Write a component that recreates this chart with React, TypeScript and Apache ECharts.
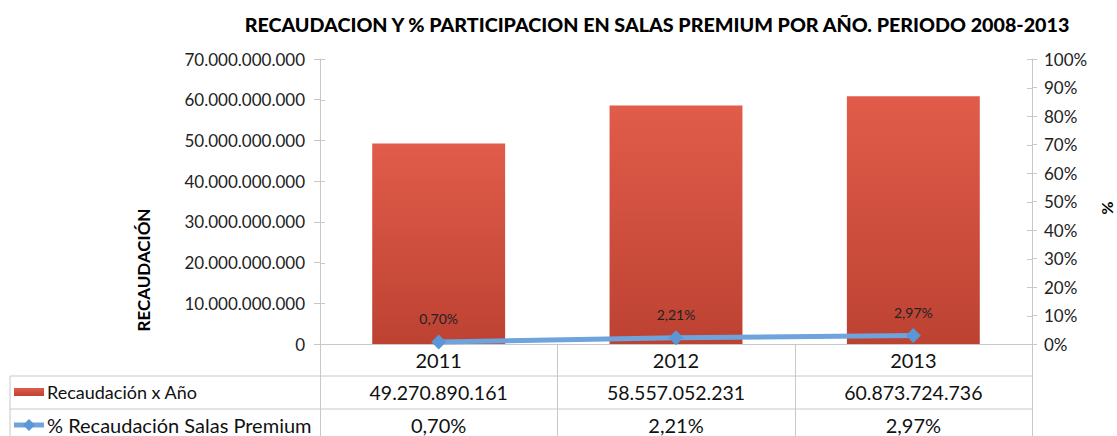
import React, { useEffect, useRef } from "react";
import * as echarts from "echarts";

const years = ["2011", "2012", "2013"];
const recaudacion = [49270890161, 58557052231, 60873724736];
const premiumPct = [0.7, 2.21, 2.97];
const barName = "Recaudación x Año";
const lineName = "% Recaudación Salas Premium";
const titleText = "RECAUDACION Y % PARTICIPACION EN SALAS PREMIUM POR AÑO. PERIODO 2008-2013";

const FONT = "Lato, 'Open Sans', sans-serif";
const fmtNum = (n: number) => Math.round(n).toString().replace(/\B(?=(\d{3})+(?!\d))/g, ".");
const fmtPct = (v: number) => v.toFixed(2).replace(".", ",") + "%";

const GL = 320, GR = 1032, GT = 59, GB = 344;
const BLUE = "#6EA3DC";
const barGrad = () =>
  new echarts.graphic.LinearGradient(0, 0, 0, 1, [
    { offset: 0, color: "#E15C4A" },
    { offset: 1, color: "#BD4232" },
  ]);

export default function App() {
  const ref = useRef<HTMLDivElement>(null);
  useEffect(() => {
    if (!ref.current) return;
    const chart = echarts.init(ref.current, null, { renderer: "svg" });
    const colW = (GR - GL) / years.length;
    const lineStyle = { stroke: "#C8C8C8", lineWidth: 1 };
    const graphics: any[] = [];
    // table grid lines
    graphics.push({ type: "line", shape: { x1: 10, y1: 376, x2: GR, y2: 376 }, style: lineStyle });
    graphics.push({ type: "line", shape: { x1: 10, y1: 409, x2: GR, y2: 409 }, style: lineStyle });
    graphics.push({ type: "line", shape: { x1: 10, y1: 376, x2: 10, y2: 440 }, style: lineStyle });
    for (let i = 0; i <= years.length; i++) {
      const x = Math.round(GL + colW * i) + 0.5;
      graphics.push({ type: "line", shape: { x1: x, y1: i === 0 ? GT : GB, x2: x, y2: 440 }, style: lineStyle });
    }
    // axis ticks crossing inward
    for (let k = 0; k <= 10; k++) {
      const y = Math.round(GB - ((GB - GT) * k) / 10) + 0.5;
      graphics.push({ type: "line", shape: { x1: GR - 5, y1: y, x2: GR, y2: y }, style: lineStyle });
    }
    for (let k = 0; k <= 7; k++) {
      const y = Math.round(GB - ((GB - GT) * k) / 7) + 0.5;
      graphics.push({ type: "line", shape: { x1: GL, y1: y, x2: GL + 5, y2: y }, style: lineStyle });
    }
    // legend keys
    graphics.push({ type: "rect", shape: { x: 14, y: 388, width: 30, height: 8 }, style: { fill: barGrad() } });
    graphics.push({ type: "line", shape: { x1: 14, y1: 425, x2: 44, y2: 425 }, style: { stroke: BLUE, lineWidth: 5 } });
    graphics.push({ type: "polygon", shape: { points: [[29, 419], [35, 425], [29, 431], [23, 425]] }, style: { fill: "#5B96D6" } });
    graphics.push({ type: "text", x: 47, y: 392, style: { text: barName, font: `18px ${FONT}`, fill: "#111", textVerticalAlign: "middle" } });
    graphics.push({ type: "text", x: 47, y: 425, style: { text: lineName, font: `20px ${FONT}`, fill: "#111", textVerticalAlign: "middle" } });
    years.forEach((_, i) => {
      const cx = GL + colW * (i + 0.5);
      graphics.push({ type: "text", x: cx, y: 392, style: { text: fmtNum(recaudacion[i]), font: `19.5px ${FONT}`, fill: "#111", textAlign: "center", textVerticalAlign: "middle" } });
      graphics.push({ type: "text", x: cx, y: 425, style: { text: fmtPct(premiumPct[i]), font: `20px ${FONT}`, fill: "#111", textAlign: "center", textVerticalAlign: "middle" } });
    });
    // axis names
    graphics.push({ type: "text", x: 143, y: 270, rotation: Math.PI / 2, style: { text: "RECAUDACIÓN", font: `bold 17px ${FONT}`, fill: "#000", textAlign: "center", textVerticalAlign: "middle" } });
    graphics.push({ type: "text", x: 1108, y: 208, rotation: -Math.PI / 2, style: { text: "%", font: `bold 16px ${FONT}`, fill: "#000", textAlign: "center", textVerticalAlign: "middle" } });

    chart.setOption({
      animation: false,
      backgroundColor: "#fff",
      title: {
        text: titleText,
        left: 652,
        textAlign: "center",
        top: 9,
        textStyle: { fontFamily: FONT, fontWeight: 900, fontSize: 19.7, color: "#000" },
      },
      grid: { left: GL, right: 1117 - GR, top: GT, bottom: 436 - GB, containLabel: false },
      xAxis: {
        type: "category",
        data: years,
        axisLine: { lineStyle: { color: "#C8C8C8" } },
        axisTick: { show: false },
        axisLabel: { fontFamily: FONT, fontSize: 20, color: "#111", margin: 6 },
      },
      yAxis: [
        {
          type: "value",
          min: 0,
          max: 70000000000,
          interval: 10000000000,
          splitLine: { show: false },
          axisLine: { show: true, lineStyle: { color: "#C8C8C8" } },
          axisTick: { show: true, length: 6, lineStyle: { color: "#C8C8C8" } },
          axisLabel: { fontFamily: FONT, fontSize: 17, color: "#222", margin: 15, formatter: (v: number) => fmtNum(v) },
        },
        {
          type: "value",
          min: 0,
          max: 100,
          interval: 10,
          position: "right",
          splitLine: { show: false },
          axisLine: { show: true, lineStyle: { color: "#C8C8C8" } },
          axisTick: { show: true, length: 5, lineStyle: { color: "#C8C8C8" } },
          axisLabel: { fontFamily: FONT, fontSize: 17, color: "#222", margin: 12, formatter: "{value}%" },
        },
      ],
      series: [
        {
          name: barName,
          type: "bar",
          data: recaudacion,
          barWidth: "56%",
          itemStyle: { color: barGrad() },
        },
        {
          name: lineName,
          type: "line",
          yAxisIndex: 1,
          data: premiumPct,
          symbol: "diamond",
          symbolSize: 15,
          lineStyle: { color: BLUE, width: 5 },
          itemStyle: { color: "#5B96D6" },
          label: {
            show: true,
            position: "top",
            distance: 9,
            fontFamily: FONT,
            fontSize: 14,
            color: "#222",
            formatter: (p: any) => fmtPct(p.value),
          },
        },
      ],
      graphic: graphics,
    });
    return () => chart.dispose();
  }, []);
  return <div ref={ref} style={{ width: 1117, height: 436, position: "absolute", left: 0, top: 0 }} />;
}
